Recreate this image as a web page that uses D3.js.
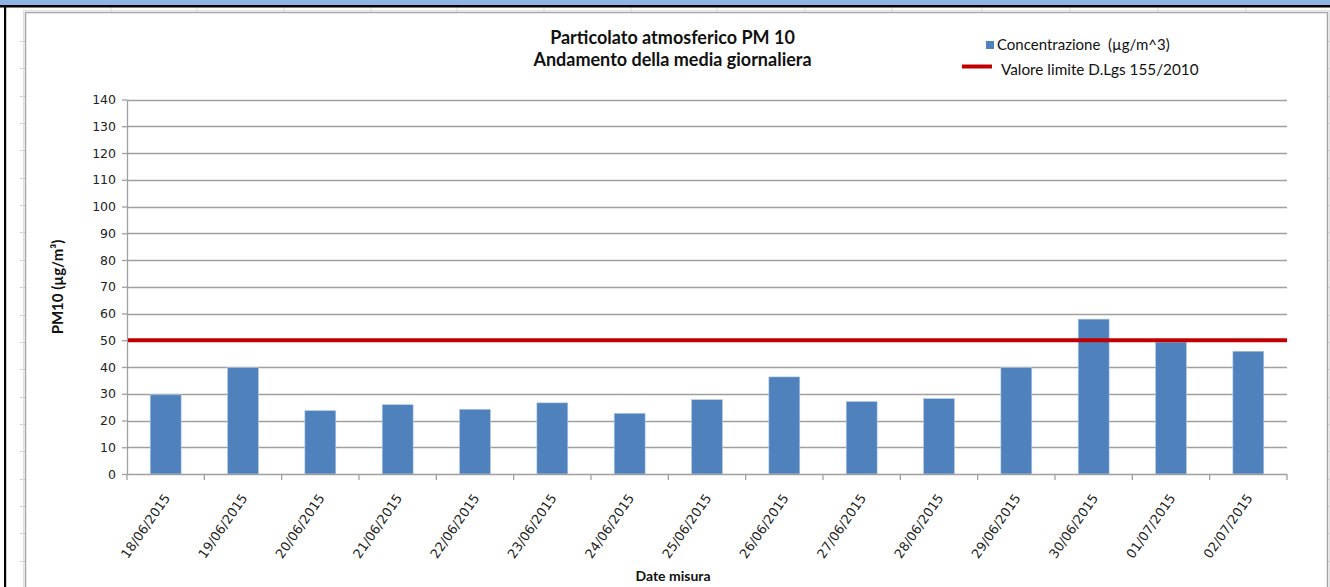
<!DOCTYPE html>
<html><head><meta charset="utf-8">
<script src="https://cdn.jsdelivr.net/npm/d3@7"></script>
<style>body{margin:0;background:#fff;overflow:hidden}svg{display:block}.pre{white-space:pre}</style>
</head><body>
<svg id="c" width="1330" height="587"></svg>
<script>
// ---- data ----
const dates = ["18/06/2015","19/06/2015","20/06/2015","21/06/2015","22/06/2015","23/06/2015","24/06/2015","25/06/2015","26/06/2015","27/06/2015","28/06/2015","29/06/2015","30/06/2015","01/07/2015","02/07/2015"];
const concentrazione = [29.6, 39.8, 23.7, 25.9, 24.2, 26.6, 22.7, 27.8, 36.3, 27.1, 28.2, 39.8, 57.9, 49.3, 45.9];
const limitValue = [50];
const yTicks = [0,10,20,30,40,50,60,70,80,90,100,110,120,130,140];
const titleLines = ["Particolato atmosferico PM 10","Andamento della media giornaliera"];
const legendLabels = ["Concentrazione  (µg/m^3)","Valore limite D.Lgs 155/2010"];
const yAxisTitle = "PM10 (µg/m³)";
const xAxisTitle = "Date misura";

// ---- layout ----
const svg = d3.select("#c");
const W = 1330, H = 587;
const plot = {left:127, right:1287, top:99.5, bottom:474};

// spreadsheet background
const bg = svg.append("g");
bg.append("rect").attr("x",0).attr("y",0).attr("width",W).attr("height",H).attr("fill","#fff");
const colX = [111,197,284,371,457,544,631,717,805,892,982,1070,1158,1246];
bg.selectAll("line.col").data(colX).join("line")
  .attr("x1",d=>d).attr("x2",d=>d).attr("y1",7).attr("y2",H)
  .attr("stroke","#d8d8d8").attr("stroke-width",1);
const rowY = d3.range(41, H, 27.35);
bg.selectAll("line.row").data(rowY).join("line")
  .attr("x1",20).attr("x2",W).attr("y1",d=>Math.round(d)+0.5).attr("y2",d=>Math.round(d)+0.5)
  .attr("stroke","#d0d0d0").attr("stroke-width",1);
bg.append("rect").attr("x",0).attr("y",0).attr("width",W).attr("height",5).attr("fill","#8DB4E2");
bg.append("rect").attr("x",0).attr("y",5).attr("width",W).attr("height",2.5).attr("fill","#000");
bg.append("rect").attr("x",4).attr("y",5).attr("width",2.2).attr("height",H).attr("fill","#000");

// chart area
svg.append("rect").attr("x",23.5).attr("y",10.5).attr("width",1306).attr("height",600)
  .attr("fill","none").attr("stroke","#e0e0e0").attr("stroke-width",1);
svg.append("rect").attr("x",25.5).attr("y",12.5).attr("width",1302).attr("height",600)
  .attr("fill","#fff").attr("stroke","#a6a6a6").attr("stroke-width",1.5);

// scales
const x = d3.scaleBand().domain(dates).range([plot.left, plot.right]).paddingInner(0.6).paddingOuter(0.3);
const y = d3.scaleLinear().domain([0,140]).range([plot.bottom, plot.top]);
const gridColor = "#a0a0a0";

// gridlines
svg.append("g").selectAll("line").data(yTicks.filter(d=>d>0)).join("line")
  .attr("x1",plot.left).attr("x2",plot.right)
  .attr("y1",d=>Math.round(y(d))+0.5).attr("y2",d=>Math.round(y(d))+0.5)
  .attr("stroke",gridColor).attr("stroke-width",1.3);

// y axis
const yAxis = svg.append("g").attr("transform",`translate(${plot.left},0)`)
  .call(d3.axisLeft(y).tickValues(yTicks).tickSize(5).tickPadding(6).tickSizeOuter(0));
yAxis.select(".domain").attr("stroke",gridColor).attr("stroke-width",1.3);
yAxis.selectAll(".tick line").attr("stroke",gridColor).attr("stroke-width",1.3);
yAxis.selectAll("text").attr("font-family","DejaVu Sans").attr("font-size",12.5).attr("fill","#222");

// bars
svg.append("g").selectAll("rect").data(concentrazione).join("rect")
  .attr("x",(d,i)=>x(dates[i])).attr("width",x.bandwidth())
  .attr("y",d=>y(d)).attr("height",d=>y(0)-y(d))
  .attr("fill","#4F81BD").attr("stroke","#b9cde5").attr("stroke-width",0.6);

// x axis
const step = x.step(), outer = (step - x.bandwidth())/2;
const boundaries = dates.map(d=>x(d)-outer).concat([x(dates[dates.length-1])+x.bandwidth()+outer]);
svg.append("line").attr("x1",plot.left).attr("x2",plot.right).attr("y1",plot.bottom+0.5).attr("y2",plot.bottom+0.5)
  .attr("stroke",gridColor).attr("stroke-width",1.3);
svg.append("g").selectAll("line").data(boundaries).join("line")
  .attr("x1",d=>d).attr("x2",d=>d).attr("y1",plot.bottom).attr("y2",plot.bottom+6)
  .attr("stroke",gridColor).attr("stroke-width",1.3);
svg.append("g").selectAll("text").data(dates).join("text")
  .attr("transform",d=>`translate(${x(d)+x.bandwidth()/2+5},${plot.bottom+24}) rotate(-55)`)
  .attr("text-anchor","end").attr("font-family","DejaVu Sans").attr("font-size",13).attr("fill","#222")
  .text(d=>d);

// limit line
svg.append("g").selectAll("line").data(limitValue).join("line")
  .attr("x1",plot.left+1).attr("x2",plot.right).attr("y1",d=>y(d)).attr("y2",d=>y(d))
  .attr("stroke","#C00000").attr("stroke-width",4);

// titles
svg.append("g").selectAll("text").data(titleLines).join("text")
  .attr("x",672.5).attr("y",(d,i)=>43.5+i*22).attr("text-anchor","middle")
  .attr("font-family","Lato").attr("font-weight","bold").attr("font-size",18).attr("fill","#111")
  .text(d=>d);
svg.append("text").attr("x",673).attr("y",581).attr("text-anchor","middle")
  .attr("font-family","Lato").attr("font-weight","bold").attr("font-size",14).attr("fill","#111")
  .text(xAxisTitle);
svg.append("text").attr("transform","translate(63,287) rotate(-90)").attr("text-anchor","middle")
  .attr("font-family","Lato").attr("font-weight","bold").attr("font-size",15).attr("fill","#111")
  .text(yAxisTitle);

// legend
const lg = svg.append("g");
lg.append("rect").attr("x",986).attr("y",41).attr("width",8).attr("height",8).attr("fill","#4F81BD");
lg.append("text").attr("class","pre").attr("xml:space","preserve").attr("x",997).attr("y",49.5)
  .attr("font-family","Lato").attr("font-size",15).attr("fill","#111").text(legendLabels[0]);
lg.append("line").attr("x1",962).attr("x2",992).attr("y1",66.5).attr("y2",66.5).attr("stroke","#C00000").attr("stroke-width",4);
lg.append("text").attr("x",1001).attr("y",74.5).attr("font-family","Lato").attr("font-size",15.3).attr("fill","#111").text(legendLabels[1]);
</script>
</body></html>
